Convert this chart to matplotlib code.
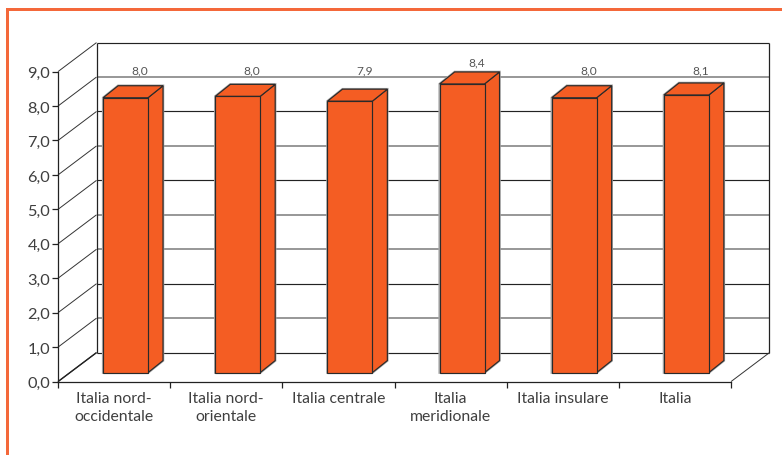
import matplotlib
matplotlib.use("Agg")
import matplotlib.pyplot as plt
from matplotlib.patches import Polygon, Rectangle
from matplotlib.lines import Line2D

categories = ["Italia nord-\noccidentale", "Italia nord-\norientale", "Italia centrale",
              "Italia\nmeridionale", "Italia insulare", "Italia"]
values = [7.98, 8.02, 7.88, 8.38, 7.98, 8.06]
y_ticks = [0, 1, 2, 3, 4, 5, 6, 7, 8, 9]
grey_levels = [1, 3, 4, 6, 8]

W, H = 782, 456
ORANGE = "#F45D23"
FRAME = "#F4683A"
INK = "#222222"
GREY = "#858585"
TXT = "#3F3F3F"
plt.rcParams["font.family"] = ["Lato", "DejaVu Sans"]

fig = plt.figure(figsize=(W / 100, H / 100), dpi=100, facecolor="white")
L, R, B, T = 58, 731, 382.6, 72.6
ax = fig.add_axes([L / W, (H - B) / H, (R - L) / W, (B - T) / H])
ax.set_xlim(0, 6)
ax.set_ylim(0, 9)
ax.patch.set_visible(False)
for s in ("top", "right"):
    ax.spines[s].set_visible(False)
for s in ("left", "bottom"):
    ax.spines[s].set_color(INK)
    ax.spines[s].set_linewidth(0.9)
    ax.spines[s].set_zorder(9)

sx = 6 / (R - L)    # data units per pixel
sy = 9 / (B - T)


def P(x, y, dx=0.0, dy=0.0):
    """data point shifted by a depth offset in pixels"""
    return (x + dx * sx, y + dy * sy)


DX, DY = 38.5, 29.0        # wall depth
FX, FY = 11.5, 9.0         # bar front plane
BX, BY = 26.5, 21.0        # bar back plane
BW = 0.4


def line(p, q, color=INK, lw=0.9, z=2):
    ax.add_line(Line2D([p[0], q[0]], [p[1], q[1]], color=color, lw=lw, zorder=z,
                       clip_on=False, solid_capstyle="butt"))


# walls
for v in y_ticks:
    grey = v in grey_levels
    line(P(0, v, DX, DY), P(6, v, DX, DY), GREY if grey else INK, 1.2 if grey else 0.85)
    line(P(0, v), P(0, v, DX, DY), "#333333", 0.7)
line(P(0, 0), P(0, 0, DX, DY), INK, 1.0)
line(P(0, 0, DX, DY), P(0, 9, DX, DY))
line(P(6, 0, DX, DY), P(6, 9, DX, DY))
line(P(6, 0), P(6, 0, DX, DY), "#333333", 0.7)

# bars
for i, v in enumerate(values):
    x0 = i + 0.5 - BW / 2
    x1 = x0 + BW
    front = [P(x0, 0, FX, FY), P(x1, 0, FX, FY), P(x1, v, FX, FY), P(x0, v, FX, FY)]
    side = [P(x1, 0, FX, FY), P(x1, 0, BX, BY), P(x1, v, BX, BY), P(x1, v, FX, FY)]
    top = [P(x0, v, FX, FY), P(x1, v, FX, FY), P(x1, v, BX, BY), P(x0, v, BX, BY)]
    halo = [P(x0, 0, FX, FY), P(x1, 0, FX, FY), P(x1, 0, BX, BY), P(x1, v, BX, BY),
            P(x0, v, BX, BY), P(x0, v, FX, FY)]
    ax.add_patch(Polygon(halo, closed=True, fc="none", ec="#A8A8A8", lw=1.8, zorder=3,
                         clip_on=False))
    for poly in (side, top, front):
        ax.add_patch(Polygon(poly, closed=True, fc=ORANGE, ec="#2A2A2A", lw=0.85, zorder=4,
                             clip_on=False, joinstyle="miter"))
    # value label: a common level, raised for bars reaching it
    ly = max(9.06, v + (BY + 10) * sy)
    lx = i + 0.5 + (BX - 0.5) * sx
    ax.text(lx, ly, f"{v:.1f}".replace(".", ","), ha="center", va="center",
            fontsize=8.6, color="#555555", zorder=6, clip_on=False)

# ticks and labels
ax.set_yticks(y_ticks)
ax.set_yticklabels([f"{v:.1f}".replace(".", ",") for v in y_ticks])
ax.tick_params(axis="y", length=4, width=0.9, color=INK, labelcolor=TXT, labelsize=11.8, pad=1.5)
ax.set_xticks(range(7))
ax.set_xticklabels([])
ax.tick_params(axis="x", which="major", length=4.5, width=0.9, color=INK)
ax.set_xticks([i + 0.5 for i in range(6)], minor=True)
ax.set_xticklabels(categories, minor=True, linespacing=1.35)
ax.tick_params(axis="x", which="minor", length=0, labelcolor=TXT, labelsize=11.3, pad=7)

# outer frame
fig.add_artist(Rectangle((6 / W, 0), 2.5 / W, (H - 9) / H, transform=fig.transFigure,
                         fc=FRAME, ec="none"))
fig.add_artist(Rectangle((6 / W, (H - 11.5) / H), (W - 6) / W, 2.5 / H, transform=fig.transFigure,
                         fc=FRAME, ec="none"))

fig.savefig("out.png", dpi=100, facecolor="white")
